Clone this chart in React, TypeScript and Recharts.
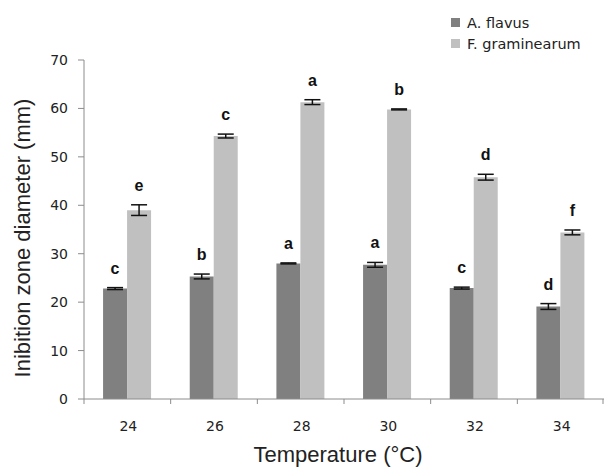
import React from "react";
import { BarChart, Bar, XAxis, YAxis, ErrorBar, LabelList } from "recharts";

const temps = ["24", "26", "28", "30", "32", "34"];
const flavus = [22.8, 25.3, 28.0, 27.7, 22.9, 19.1];
const flavusErr = [0.2, 0.5, 0.1, 0.5, 0.2, 0.6];
const flavusLetters = ["c", "b", "a", "a", "c", "d"];
const gram = [39.0, 54.3, 61.3, 59.8, 45.8, 34.4];
const gramErr = [1.1, 0.4, 0.5, 0.1, 0.6, 0.5];
const gramLetters = ["e", "c", "a", "b", "d", "f"];
const yTicks = [0, 10, 20, 30, 40, 50, 60, 70];

const DARK = "#808080";
const LIGHT = "#c0c0c0";
const TEXT = "#222";
const AXIS = "#8c8c8c";
const FONT = "'DejaVu Sans', sans-serif";
const TITLE_FONT = "'Liberation Sans', Arial, sans-serif";

const data = temps.map((t, i) => ({
  temp: t,
  flavus: flavus[i],
  flavusErr: flavusErr[i],
  flavusLetter: flavusLetters[i],
  gram: gram[i],
  gramErr: gramErr[i],
  gramLetter: gramLetters[i],
}));

const W = 604;
const H = 467;
const LEFT = 84;
const BAND = (W - LEFT) / temps.length;

function makeLetter(vals: number[], errs: number[]) {
  return (p: any) => {
    const { x, y, width, height, value, index } = p;
    const v = vals[index];
    const errPx = v ? (errs[index] * Number(height)) / v : 0;
    return (
      <text
        x={Number(x) + Number(width) / 2}
        y={Number(y) - errPx - 14}
        textAnchor="middle"
        fontFamily={TITLE_FONT}
        fontWeight="bold"
        fontSize={16}
        fill="#111"
      >
        {value}
      </text>
    );
  };
}

function XTick(p: any) {
  const { x, y, payload, index } = p;
  const left = x - BAND / 2;
  return (
    <g>
      <line x1={left} y1={y} x2={left} y2={y + 5} stroke={AXIS} />
      {index === temps.length - 1 && (
        <line x1={x + BAND / 2 - 1} y1={y} x2={x + BAND / 2 - 1} y2={y + 5} stroke={AXIS} />
      )}
      <text x={x + 1} y={y + 32} textAnchor="middle" fontFamily={FONT} fontSize={14} fill={TEXT}>
        {payload.value}
      </text>
    </g>
  );
}

function LegendBox() {
  const items = [
    { name: "A. flavus", color: DARK },
    { name: "F. graminearum", color: LIGHT },
  ];
  return (
    <div
      style={{
        position: "absolute",
        left: 451,
        top: 12,
        fontFamily: FONT,
        fontSize: 14.5,
        color: TEXT,
      }}
    >
      {items.map((it) => (
        <div key={it.name} style={{ display: "flex", alignItems: "center", height: 21 }}>
          <span style={{ width: 9, height: 9, background: it.color, marginRight: 7, display: "inline-block" }} />
          {it.name}
        </div>
      ))}
    </div>
  );
}

export default function App() {
  return (
    <div style={{ position: "absolute", left: 0, top: 0, width: W, height: H, background: "#fff" }}>
      <BarChart
        width={W}
        height={H}
        data={data}
        margin={{ top: 60, right: 0, bottom: 0, left: 0 }}
        barCategoryGap="22%"
        barGap={0}
      >
        <XAxis
          dataKey="temp"
          height={68}
          stroke={AXIS}
          tickLine={false}
          tickSize={0}
          tickMargin={0}
          tick={<XTick />}
          interval={0}
          label={{
            content: () => (
              <text
                x={338}
                y={454}
                textAnchor="middle"
                dominantBaseline="central"
                fontFamily={TITLE_FONT}
                fontSize={22}
                fill={TEXT}
              >
                Temperature (°C)
              </text>
            ),
          }}
        />
        <YAxis
          width={LEFT}
          domain={[0, 70]}
          ticks={yTicks}
          interval={0}
          stroke={AXIS}
          tickSize={6}
          tickMargin={10}
          tick={{ fill: TEXT, fontFamily: FONT, fontSize: 14 }}
          label={{
            content: () => (
              <text
                x={22}
                y={238}
                transform="rotate(-90 22 238)"
                textAnchor="middle"
                dominantBaseline="central"
                fontFamily={TITLE_FONT}
                fontSize={22}
                fill={TEXT}
              >
                Inibition zone diameter (mm)
              </text>
            ),
          }}
        />
        <Bar dataKey="flavus" name="A. flavus" fill={DARK} isAnimationActive={false}>
          <ErrorBar dataKey="flavusErr" width={8} stroke="#111" strokeWidth={1.5} direction="y" />
          <LabelList dataKey="flavusLetter" content={makeLetter(flavus, flavusErr)} />
        </Bar>
        <Bar dataKey="gram" name="F. graminearum" fill={LIGHT} isAnimationActive={false}>
          <ErrorBar dataKey="gramErr" width={8} stroke="#111" strokeWidth={1.5} direction="y" />
          <LabelList dataKey="gramLetter" content={makeLetter(gram, gramErr)} />
        </Bar>
      </BarChart>
      <LegendBox />
    </div>
  );
}
